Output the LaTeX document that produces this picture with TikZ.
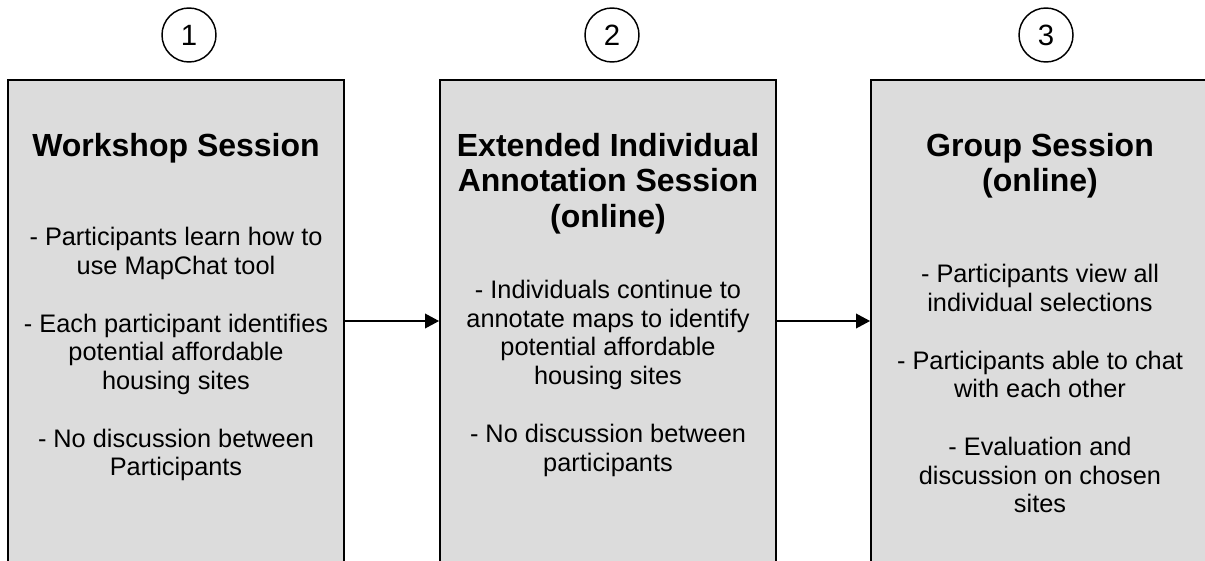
\documentclass[tikz,border=0pt]{standalone}
\usepackage{fontspec}
\setmainfont{Liberation Sans}
\usetikzlibrary{arrows.meta,positioning}
\definecolor{boxgray}{RGB}{220,220,220}

\begin{document}
\begin{tikzpicture}[x=0.75pt, y=-0.75pt, >={Triangle[length=10.5pt,width=11pt]},
    stage/.style={draw, line width=1.4pt, fill=boxgray, minimum width=252pt,
                  minimum height=361.5pt, inner sep=0pt},
    num/.style={draw, circle, line width=1.1pt, minimum size=40.5pt, inner sep=0pt,
                font=\fontsize{22}{22}\selectfont},
    head/.style={anchor=north, align=center, inner sep=0pt,
                 font=\fontsize{24}{26.5}\selectfont\bfseries},
    body/.style={anchor=north, align=center, inner sep=0pt,
                 font=\fontsize{19}{21.5}\selectfont},
    arr/.style={->, line width=1pt}]

  \useasboundingbox (0,0) rectangle (1205,560);
  \clip (0,0) rectangle (1205,560);

  %% Stage numbers
  \node[num] (n1) at (189,35)  {1};
  \node[num] (n2) at (612,35)  {2};
  \node[num] (n3) at (1046,35) {3};

  %% ── Stage boxes (run off the bottom edge) ──────────────
  \node[stage] (ws)  at (176,321)  {};
  \node[stage] (ext) at (608,321)  {};
  \node[stage] (grp) at (1039,321) {};

  %% ── Workshop ─────────────────────────────────────────────
  \node[head] (wsT) at (176,133) {Workshop Session};
  \node[body] (wsB) at (176,227)
    {- Participants learn how to\\use MapChat tool\\[21.8pt]
     - Each participant identifies\\potential affordable\\housing sites\\[21.8pt]
     - No discussion between\\Participants};

  %% ── Individual annotation ───────────────────────────────
  \node[head] (extT) at (608,133)
    {Extended Individual\\Annotation Session\\(online)};
  \node[body] (extB) at (608,280)
    {- Individuals continue to\\annotate maps to identify\\potential affordable\\housing sites\\[21.8pt]
     - No discussion between\\participants};

  %% ── Group ────────────────────────────────────────────────
  \node[head] (grpT) at (1040,133) {Group Session\\(online)};
  \node[body] (grpB) at (1040,264)
    {- Participants view all\\individual selections\\[21.8pt]
     - Participants able to chat\\with each other\\[21.8pt]
     - Evaluation and\\discussion on chosen\\sites};

  %% Flow between stages
  \draw[arr] (ws) -- (ext);
  \draw[arr] (ext) -- (grp);

\end{tikzpicture}
\end{document}
